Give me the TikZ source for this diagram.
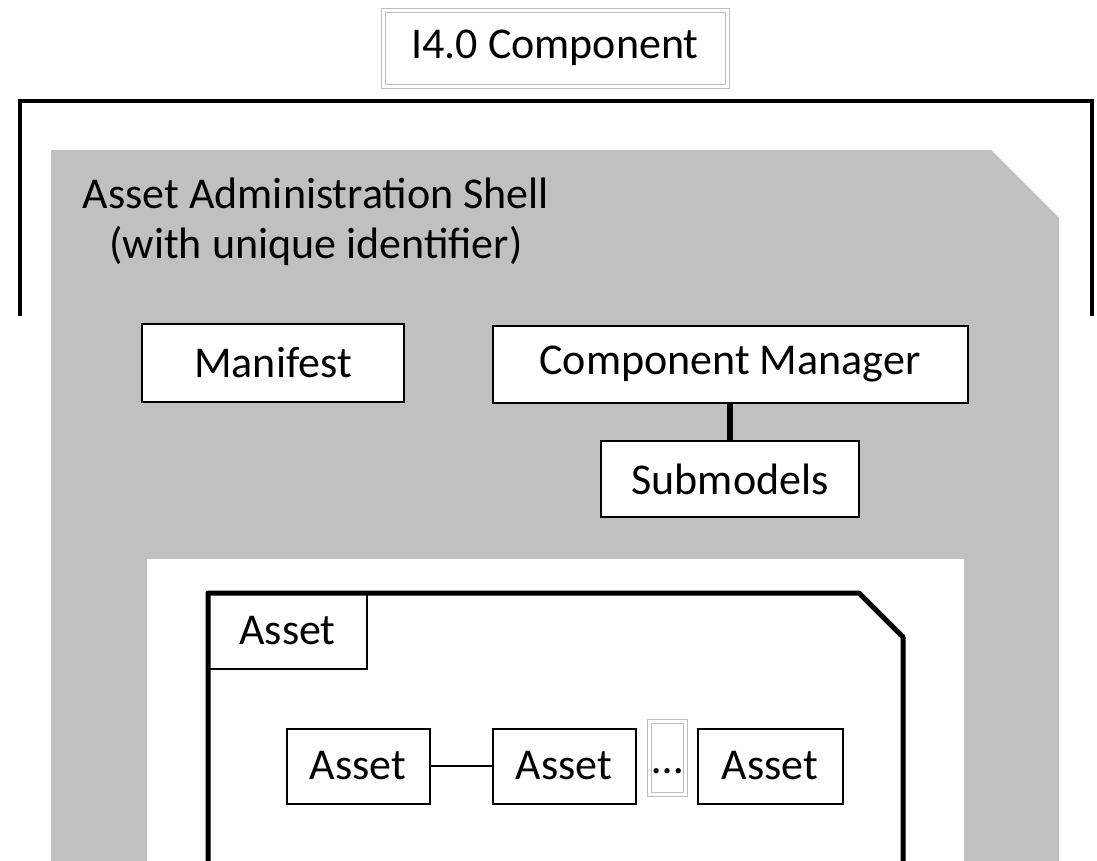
\documentclass[tikz,border=0pt]{standalone}
\usepackage{fontspec}
\setmainfont{Carlito}
\definecolor{shellgray}{RGB}{192,192,192}
\definecolor{framegray}{RGB}{190,190,190}

\begin{document}
\begin{tikzpicture}[x=1pt,y=-1pt,font=\fontsize{44}{50}\selectfont,
  partbox/.style={draw=black,line width=2pt,fill=white,inner sep=0pt},
  ghostbox/.style={draw=framegray,double=white,double distance=3pt,line width=1pt,fill=white,inner sep=0pt},
  bracket/.style={draw=black,line width=4pt},
  assetline/.style={draw=black,line width=5pt,line join=round}]
\clip (0,0) rectangle (1097,860);
\fill[white] (0,0) rectangle (1097,860);
% I4.0 component with its bracket
\node[ghostbox,minimum width=344pt,minimum height=76pt] (title) at (555,48) {I4.0 Component};
\draw[bracket] (20,316) -- (20,101) -- (1092,101) -- (1092,316);
% asset administration shell
\fill[shellgray] (51,870) -- (51,150) -- (991,150) -- (1059,218) -- (1059,870) -- cycle;
\node[align=center] (shell) at (316,222) {Asset Administration Shell\\(with unique identifier)};
\node[partbox,minimum width=262pt,minimum height=78pt] (manifest) at (273,363) {Manifest};
\node[partbox,minimum width=475pt,minimum height=77pt] (manager) at (730,364) {Component Manager};
\node[partbox,minimum width=258pt,minimum height=76pt] (submodels) at (730,479) {Submodels};
\draw[line width=5.5pt] (manager.south) -- (submodels.north);
% asset
\fill[white] (147,870) rectangle (964,559);
\node[partbox,minimum width=159pt,minimum height=76pt] (assettab) at (287.5,631) {Asset};
\draw[assetline] (208,870) -- (208,593) -- (859,593) -- (903,637) -- (903,870);
\node[partbox,minimum width=143pt,minimum height=75pt] (asseta) at (358,766) {Asset};
\node[partbox,minimum width=143pt,minimum height=75pt] (assetb) at (564,766) {Asset};
\node[ghostbox,minimum width=36pt,minimum height=73pt,text height=35pt,text depth=5pt] (dots) at (667.5,758) {…};
\node[partbox,minimum width=145pt,minimum height=75pt] (assetc) at (770,766) {Asset};
\draw[line width=2pt] (asseta) -- (assetb);
\end{tikzpicture}
\end{document}
